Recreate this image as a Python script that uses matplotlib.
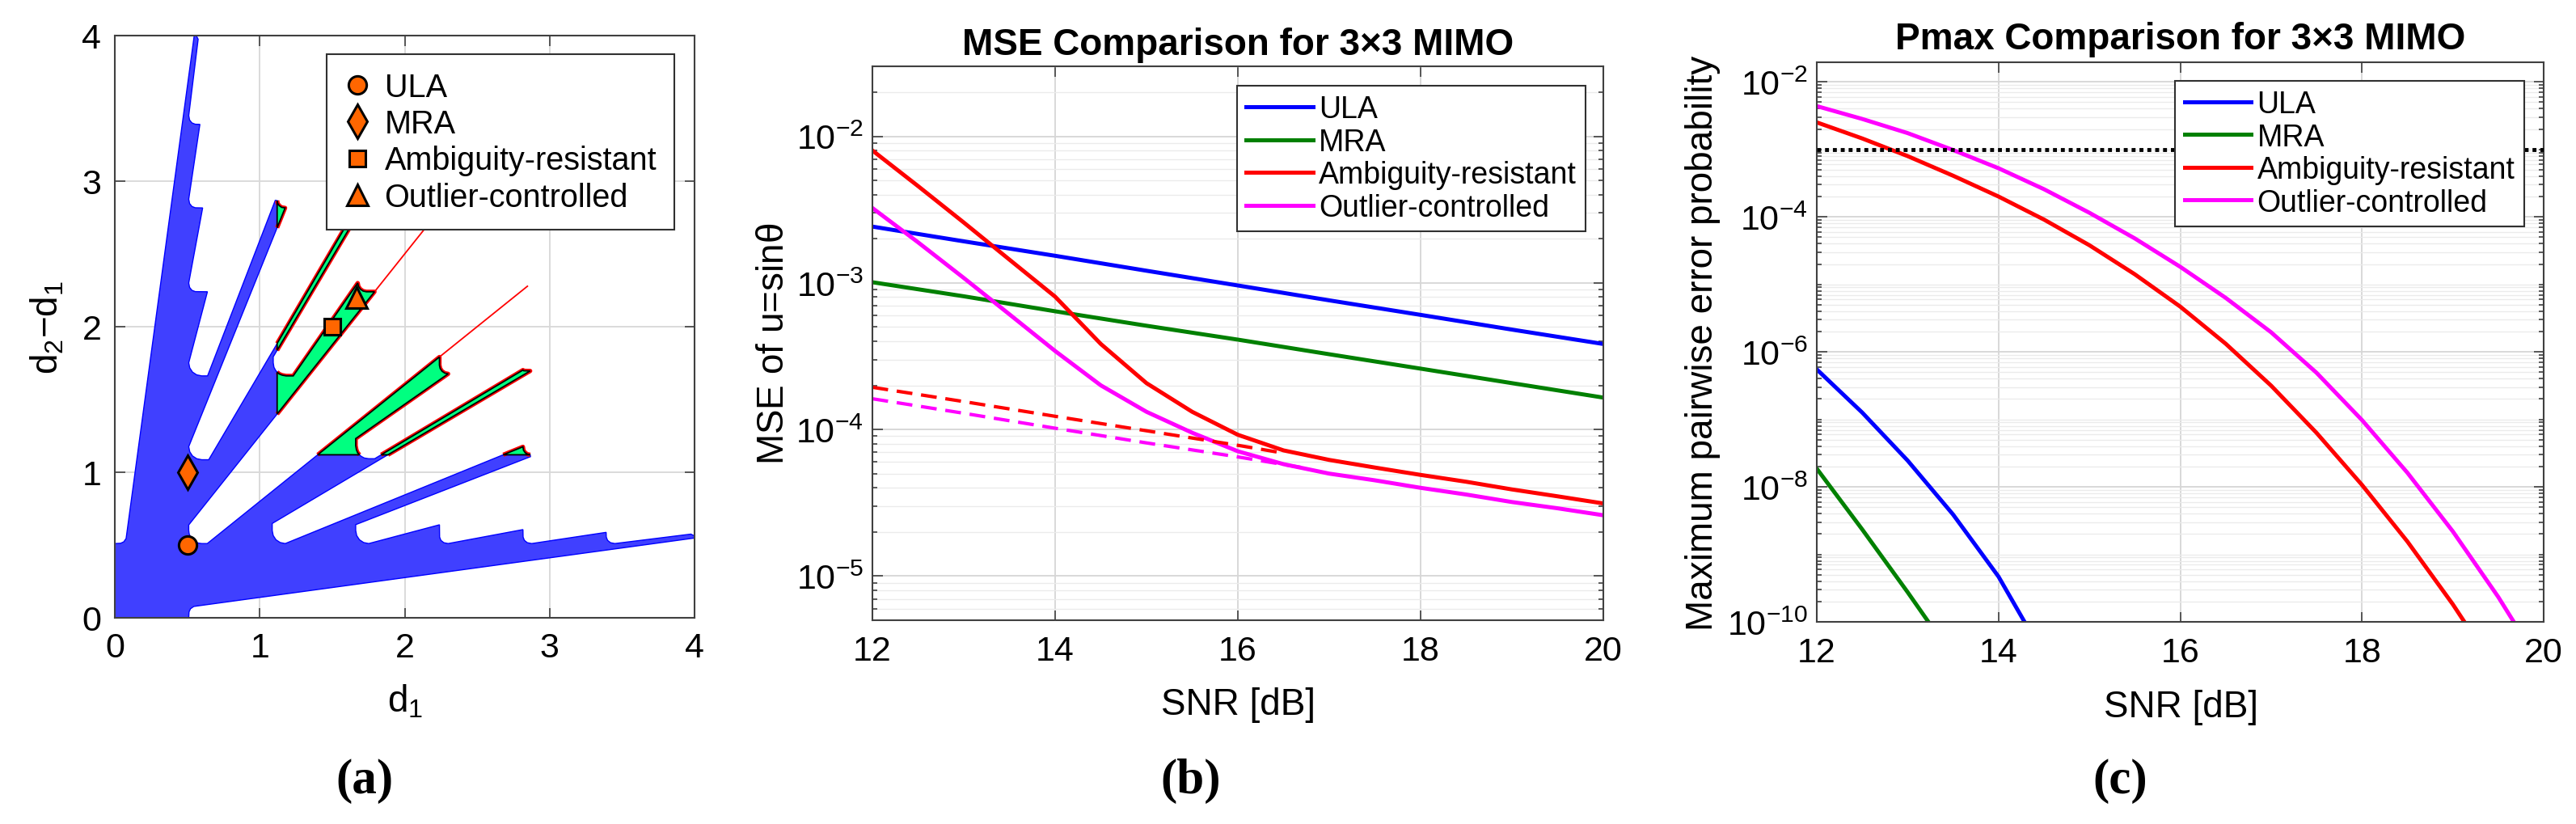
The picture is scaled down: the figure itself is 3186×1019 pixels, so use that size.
import numpy as np
import matplotlib
matplotlib.use("Agg")
import matplotlib.pyplot as plt
from matplotlib.patches import Polygon
from matplotlib.ticker import FixedLocator, FixedFormatter

plt.rcParams['font.family'] = ['Liberation Sans', 'DejaVu Sans']
plt.rcParams['mathtext.fontset'] = 'custom'
plt.rcParams['mathtext.rm'] = 'Liberation Sans'
plt.rcParams['mathtext.it'] = 'Liberation Sans:italic'
plt.rcParams['mathtext.bf'] = 'Liberation Sans:bold'
plt.rcParams['mathtext.default'] = 'regular'

# ======================= DATA =======================
# ---- Panel (a): region below the diagonal (d2-d1 = d1); upper half is its mirror ----
region_lower_d1 = [0.000, 0.510, 0.512, 0.522, 0.545, 4.000, 4.000, 3.975,
                   3.450, 3.420, 3.400, 3.391, 3.390,
                   2.876, 2.846, 2.826, 2.817, 2.816,
                   2.300, 2.270, 2.250, 2.241, 2.240,
                   1.752, 1.717, 1.688, 1.669, 1.662, 1.662,
                   2.868, 2.866, 2.680,
                   1.176, 1.141, 1.112, 1.093, 1.086, 1.086,
                   1.884, 1.838,
                   1.793, 1.752, 1.721, 1.699, 1.688,
                   1.400,
                   0.638, 0.600, 0.577, 0.555, 0.537]
region_lower_dd = [0.000, 0.000, 0.040, 0.062, 0.078, 0.548, 0.562, 0.575,
                   0.510, 0.516, 0.532, 0.555, 0.587,
                   0.510, 0.516, 0.532, 0.555, 0.606,
                   0.510, 0.516, 0.532, 0.555, 0.639,
                   0.510, 0.517, 0.536, 0.565, 0.600, 0.640,
                   1.107, 1.120, 1.120,
                   0.510, 0.517, 0.536, 0.565, 0.600, 0.648,
                   1.120, 1.120,
                   1.093, 1.093, 1.098, 1.110, 1.120,
                   1.120,
                   0.510, 0.510, 0.513, 0.522, 0.537]

# green sub-regions (lower half; mirrored for the upper half)
green_E_d1 = [1.400, 2.240, 2.240, 2.245, 2.258, 2.277, 2.300, 1.662, 1.662, 1.667, 1.675, 1.688]
green_E_dd = [1.120, 1.792, 1.736, 1.713, 1.694, 1.681, 1.676, 1.231, 1.183, 1.155, 1.135, 1.120]
green_F_d1 = [1.838, 2.816, 2.822, 2.866, 1.885]
green_F_dd = [1.120, 1.702, 1.697, 1.696, 1.120]
green_G_d1 = [2.680, 2.816, 2.820, 2.831, 2.847, 2.866]
green_G_dd = [1.120, 1.175, 1.151, 1.135, 1.124, 1.120]
red_ray_d1 = [2.240, 2.847]
red_ray_dd = [1.792, 2.278]

design_names = ['ULA', 'MRA', 'Ambiguity-resistant', 'Outlier-controlled']
design_d1 = [0.5, 0.5, 1.5, 1.67]
design_dd = [0.5, 1.0, 2.0, 2.2]
design_markers = ['o', 'd', 's', '^']
design_sizes = [16, 21, 14, 19]

# ---- Panel (b): MSE ----
snr_int = [12, 13, 14, 15, 16, 17, 18, 19, 20]
mse_ula = [2.42e-3, 1.92e-3, 1.53e-3, 1.21e-3, 9.6e-4, 7.6e-4, 6.05e-4, 4.8e-4, 3.83e-4]
mse_mra = [1.01e-3, 8.1e-4, 6.4e-4, 5.1e-4, 4.1e-4, 3.26e-4, 2.6e-4, 2.07e-4, 1.65e-4]
snr_half = [12, 12.5, 13, 13.5, 14, 14.5, 15, 15.5, 16, 16.5, 17, 17.5, 18, 18.5, 19, 19.5, 20]
mse_amb = [8.0e-3, 4.57e-3, 2.58e-3, 1.44e-3, 8.05e-4, 3.83e-4, 2.07e-4, 1.32e-4, 9.2e-5,
           7.2e-5, 6.2e-5, 5.5e-5, 4.9e-5, 4.4e-5, 3.9e-5, 3.5e-5, 3.13e-5]
mse_out = [3.24e-3, 1.89e-3, 1.08e-3, 6.1e-4, 3.43e-4, 2.0e-4, 1.32e-4, 9.5e-5, 7.1e-5,
           5.8e-5, 5.0e-5, 4.5e-5, 4.0e-5, 3.6e-5, 3.2e-5, 2.9e-5, 2.6e-5]
snr_bound_amb = [12, 13, 14, 15, 16, 16.5]
bound_amb = [1.94e-4, 1.55e-4, 1.23e-4, 9.8e-5, 7.8e-5, 6.9e-5]
snr_bound_out = [12, 13, 14, 15, 16, 16.7]
bound_out = [1.62e-4, 1.29e-4, 1.02e-4, 8.1e-5, 6.5e-5, 5.5e-5]

# ---- Panel (c): Pmax ----
snr_ula_c = [12, 12.5, 13, 13.5, 14, 14.5]
pmax_ula = [5.5e-7, 1.26e-7, 2.45e-8, 3.89e-9, 4.68e-10, 3.16e-11]
snr_mra_c = [12, 12.5, 13, 13.5]
pmax_mra = [1.86e-8, 2.34e-9, 2.75e-10, 3.0e-11]
pmax_amb = [2.51e-3, 1.45e-3, 7.94e-4, 4.07e-4, 2.0e-4, 9.12e-5, 3.8e-5, 1.41e-5, 4.68e-6,
            1.32e-6, 3.16e-7, 6.31e-8, 1.07e-8, 1.55e-9, 1.82e-10, 1.74e-11, 1.32e-12]
pmax_out = [4.37e-3, 2.82e-3, 1.74e-3, 9.77e-4, 5.25e-4, 2.57e-4, 1.15e-4, 4.79e-5, 1.82e-5,
            6.31e-6, 1.95e-6, 4.9e-7, 9.77e-8, 1.62e-8, 2.19e-9, 2.34e-10, 1.95e-11]
pmax_threshold = 1e-3

# ======================= STYLE =======================
W, H = 3186, 1020
BLUE_FACE = (0.25, 0.25, 1.0)
GREEN_FACE = (0.0, 1.0, 0.5)
ORANGE = (1.0, 0.4, 0.0)
C_ULA, C_MRA, C_AMB, C_OUT = (0, 0, 1), (0, 0.5, 0), (1, 0, 0), (1, 0, 1)
AX_COLOR = '#404040'
TICK_FS, LABEL_FS, TITLE_FS = 31, 33, 33

fig = plt.figure(figsize=(W / 100, H / 100), dpi=100)


def px_axes(l, r, t, b):
    return fig.add_axes([l / W, 1 - b / H, (r - l) / W, (b - t) / H])


def style(ax):
    for s in ax.spines.values():
        s.set_color(AX_COLOR)
        s.set_linewidth(1.5)
    ax.tick_params(which='both', direction='in', top=True, right=True,
                   color=AX_COLOR, width=1.2, labelcolor='black')
    ax.tick_params(which='major', length=9, labelsize=TICK_FS)
    ax.tick_params(which='minor', length=4.5)
    ax.set_axisbelow(True)


axA = px_axes(142, 859, 45, 765)
axB = px_axes(1079, 1983, 83, 768)
axC = px_axes(2247, 3146, 78, 770)

# ---------------- Panel (a) ----------------
style(axA)
lo_x = np.array(region_lower_d1)
lo_y = np.array(region_lower_dd)
full_x = np.concatenate([lo_x, lo_y[-2::-1]])
full_y = np.concatenate([lo_y, lo_x[-2::-1]])
axA.add_patch(Polygon(np.column_stack([full_x, full_y]), closed=True,
                      facecolor=BLUE_FACE, edgecolor=(0, 0, 1), linewidth=1.0, zorder=2))

for gx, gy in [(green_E_d1, green_E_dd), (green_F_d1, green_F_dd), (green_G_d1, green_G_dd)]:
    for xs, ys in [(gx, gy), (gy, gx)]:
        axA.plot(xs, ys, color='red', linewidth=3.8, solid_joinstyle='round',
                 solid_capstyle='butt', zorder=3)
        axA.add_patch(Polygon(np.column_stack([xs, ys]), closed=True,
                              facecolor=GREEN_FACE, edgecolor='black', linewidth=1.3, zorder=4))
axA.plot(red_ray_d1, red_ray_dd, color='red', linewidth=1.3, zorder=3)
axA.plot(red_ray_dd, red_ray_d1, color='red', linewidth=1.3, zorder=3)

for name, xv, yv, mk, ms in zip(design_names, design_d1, design_dd, design_markers, design_sizes):
    axA.plot([xv], [yv], linestyle='none', marker=mk, markersize=ms,
             markerfacecolor=ORANGE, markeredgecolor='black', markeredgewidth=2.2,
             label=name, zorder=6)

axA.set_xlim(0, 4)
axA.set_ylim(0, 4)
axA.set_xticks([0, 1, 2, 3, 4])
axA.set_yticks([0, 1, 2, 3, 4])
axA.tick_params(which='major', pad=12)
axA.grid(True, color='#d8d8d8', linewidth=1.3)
legA = axA.legend(loc='upper right', bbox_to_anchor=(0.965, 0.9675), fontsize=28.5,
                  fancybox=False, framealpha=1, edgecolor='#303030', borderpad=0.55,
                  labelspacing=0.18, handlelength=0.8, handletextpad=0.45, borderaxespad=0)
legA.get_frame().set_linewidth(1.5)
legA.set_zorder(10)


def log_axis(ax, lo_exp, hi_exp, majors):
    ax.set_yscale('log')
    ax.yaxis.set_major_locator(FixedLocator([10.0 ** e for e in majors]))
    ax.yaxis.set_major_formatter(FixedFormatter([r'$10^{%d}$' % e for e in majors]))
    minors = [m * 10.0 ** e for e in range(lo_exp, hi_exp + 1) for m in range(1, 10)
              if not (m == 1 and e in majors)]
    ax.yaxis.set_minor_locator(FixedLocator(minors))
    ax.yaxis.set_minor_formatter(FixedFormatter([''] * len(minors)))
    ax.set_xlim(12, 20)
    ax.set_xticks([12, 14, 16, 18, 20])
    ax.grid(True, which='major', color='#d6d6d6', linewidth=1.3)
    ax.grid(True, which='minor', axis='y', color='#ebebeb', linewidth=1.0)
    ax.tick_params(axis='x', which='major', pad=13)
    ax.tick_params(axis='y', which='major', pad=8)


LEG_KW = dict(loc='upper right', fontsize=27, fancybox=False, framealpha=1,
              edgecolor='#303030', borderpad=0.3, labelspacing=0.12,
              handlelength=2.2, handletextpad=0.2, borderaxespad=0)

# ---------------- Panel (b) ----------------
style(axB)
LW = 3.6
axB.plot(snr_int, mse_ula, color=C_ULA, lw=LW, label='ULA')
axB.plot(snr_int, mse_mra, color=C_MRA, lw=LW, label='MRA')
axB.plot(snr_half, mse_amb, color=C_AMB, lw=LW, label='Ambiguity-resistant')
axB.plot(snr_half, mse_out, color=C_OUT, lw=LW, label='Outlier-controlled')
axB.plot(snr_bound_amb, bound_amb, color=C_AMB, lw=3.0, ls=(0, (4.7, 2.6)))
axB.plot(snr_bound_out, bound_out, color=C_OUT, lw=3.0, ls=(0, (4.7, 2.6)))
log_axis(axB, -6, -2, [-5, -4, -3, -2])
axB.set_ylim(5e-6, 3e-2)
axB.set_title('MSE Comparison for 3×3 MIMO', fontsize=TITLE_FS, fontweight='bold', pad=11)
legB = axB.legend(bbox_to_anchor=(0.976, 0.965), **LEG_KW)
legB.get_frame().set_linewidth(1.5)

# ---------------- Panel (c) ----------------
style(axC)
axC.plot(snr_ula_c, pmax_ula, color=C_ULA, lw=LW, label='ULA')
axC.plot(snr_mra_c, pmax_mra, color=C_MRA, lw=LW, label='MRA')
axC.plot(snr_half, pmax_amb, color=C_AMB, lw=LW, label='Ambiguity-resistant')
axC.plot(snr_half, pmax_out, color=C_OUT, lw=LW, label='Outlier-controlled')
axC.axhline(pmax_threshold, color='black', lw=3.5, ls=(0, (1, 1)), zorder=3)
log_axis(axC, -10, -2, [-10, -8, -6, -4, -2])
axC.set_ylim(1e-10, 10 ** -1.71)
axC.set_title('Pmax Comparison for 3×3 MIMO', fontsize=TITLE_FS, fontweight='bold', pad=12)
legC = axC.legend(bbox_to_anchor=(0.973, 0.967), **LEG_KW)
legC.get_frame().set_linewidth(1.5)

# ---------------- axis labels & panel tags ----------------
def ftext(x, y, s, **kw):
    fig.text(x / W, 1 - y / H, s, **kw)

ftext(501, 880, r'd$_1$', ha='center', va='baseline', fontsize=LABEL_FS)
ftext(1531, 884, 'SNR [dB]', ha='center', va='baseline', fontsize=LABEL_FS)
ftext(2697, 887, 'SNR [dB]', ha='center', va='baseline', fontsize=LABEL_FS)
ftext(59, 405, r'd$_2$−d$_1$', ha='center', va='center', rotation=90, fontsize=LABEL_FS)
ftext(957, 425, r'MSE of u=sin$\theta$', ha='center', va='center', rotation=90, fontsize=LABEL_FS)
ftext(2106, 424, 'Maximum pairwise error probability', ha='center', va='center',
      rotation=90, fontsize=LABEL_FS)
for lab, xc in [('(a)', 451), ('(b)', 1473), ('(c)', 2622)]:
    ftext(xc, 966, lab, ha='center', va='center', fontsize=44, fontweight='bold',
          family=['Liberation Serif', 'DejaVu Serif'])

fig.savefig('out.png', dpi=100)
